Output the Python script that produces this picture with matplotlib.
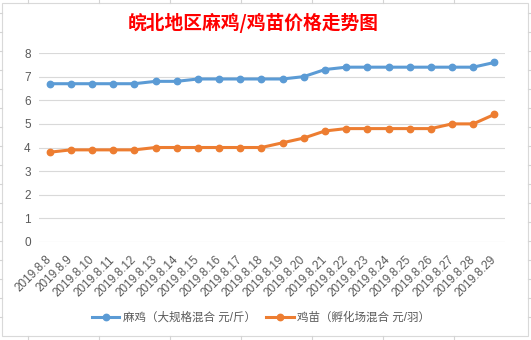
import matplotlib
matplotlib.use("Agg")
import matplotlib.pyplot as plt
from matplotlib.lines import Line2D
from matplotlib.patches import Rectangle

plt.rcParams['font.family'] = ['Liberation Sans', 'Noto Sans CJK SC', 'DejaVu Sans']

dates = ['2019.8.8', '2019.8.9', '2019.8.10', '2019.8.11', '2019.8.12', '2019.8.13',
         '2019.8.14', '2019.8.15', '2019.8.16', '2019.8.17', '2019.8.18', '2019.8.19',
         '2019.8.20', '2019.8.21', '2019.8.22', '2019.8.23', '2019.8.24', '2019.8.25',
         '2019.8.26', '2019.8.27', '2019.8.28', '2019.8.29']
maji = [6.7, 6.7, 6.7, 6.7, 6.7, 6.8, 6.8, 6.9, 6.9, 6.9, 6.9, 6.9,
        7.0, 7.3, 7.4, 7.4, 7.4, 7.4, 7.4, 7.4, 7.4, 7.6]
jimiao = [3.8, 3.9, 3.9, 3.9, 3.9, 4.0, 4.0, 4.0, 4.0, 4.0, 4.0, 4.2,
          4.4, 4.7, 4.8, 4.8, 4.8, 4.8, 4.8, 5.0, 5.0, 5.4]
series_names = ['麻鸡（大规格混合 元/斤）', '鸡苗（孵化场混合 元/羽）']
title = '皖北地区麻鸡/鸡苗价格走势图'

W, H = 531, 340
fig = plt.figure(figsize=(W / 100, H / 100), dpi=100)
fig.patch.set_facecolor('white')

# spreadsheet cell lines peeking out around the chart object
cell_gray = '#d4d4d4'
for x in [28, 99, 170, 241, 312, 383, 454]:
    fig.add_artist(Line2D([x / W, x / W], [1 - 3 / H, 1], color=cell_gray, lw=0.8))
    fig.add_artist(Line2D([x / W, x / W], [0, 4 / H], color=cell_gray, lw=0.8))
for y in range(13, 336, 19):
    fig.add_artist(Line2D([0, 2 / W], [1 - y / H, 1 - y / H], color=cell_gray, lw=0.8))
    fig.add_artist(Line2D([528 / W, 1], [1 - y / H, 1 - y / H], color=cell_gray, lw=0.8))
fig.add_artist(Rectangle((2 / W, 4 / H), 526 / W, 333 / H, transform=fig.transFigure,
                         fill=False, edgecolor='#d9d9d9', lw=0.8))

ax = fig.add_axes([39 / W, 1 - 242 / H, 466 / W, 189 / H])
x = list(range(len(dates)))
ax.plot(x, maji, color='#5b9bd5', lw=2.2, marker='o', ms=4.6, label=series_names[0])
ax.plot(x, jimiao, color='#ed7d31', lw=2.2, marker='o', ms=4.6, label=series_names[1])

ax.set_xlim(-0.5, len(dates) - 0.5)
ax.set_ylim(0, 8)
ax.set_yticks(range(0, 9))
ax.grid(axis='y', color='#d9d9d9', lw=0.8)
ax.set_axisbelow(True)
for s in ax.spines.values():
    s.set_visible(False)

ax.set_xticks(x)
ax.set_xticklabels(dates)
ax.tick_params(axis='x', length=0, pad=11.5, labelsize=8.5, labelcolor='#595959')
ax.tick_params(axis='y', length=0, pad=6, labelsize=8.5, labelcolor='#595959')
plt.setp(ax.get_xticklabels(), rotation=45, ha='right', va='center', rotation_mode='anchor')

fig.text(253 / W, 1 - 23 / H, title, color='red', fontsize=13.5, fontweight='bold',
         family=['Noto Sans CJK SC'], ha='center', va='center')

leg = fig.legend(loc='center', bbox_to_anchor=(261 / W, 1 - 318 / H), ncol=2, frameon=False,
                 fontsize=8.3, handlelength=2.4, handletextpad=0.3, columnspacing=0.9)
for t in leg.get_texts():
    t.set_color('#595959')

fig.savefig('out.png', dpi=100)
